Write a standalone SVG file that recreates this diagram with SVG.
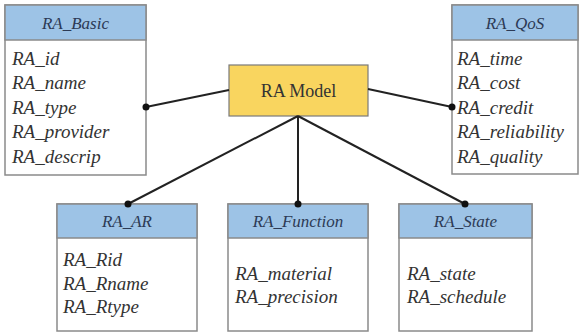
<svg xmlns="http://www.w3.org/2000/svg" width="584" height="333" viewBox="0 0 584 333">
  <style>
    .box { fill: #ffffff; stroke: #8a8a8a; stroke-width: 1.5; }
    .head { fill: #9dc3e6; stroke: #8a8a8a; stroke-width: 1.5; }
    .title { font-style: italic; font-size: 17px; fill: #2c3a55; text-anchor: middle; }
    .item { font-style: italic; font-size: 19px; fill: #333333; }
    .center { fill: #f9d55f; stroke: #7a7a7a; stroke-width: 1.2; }
    .centerText { font-size: 18px; fill: #333333; text-anchor: middle; }
    .link { stroke: #222222; stroke-width: 2; fill: none; }
    .dot { fill: #111111; }
  </style>

  <g font-family="'Liberation Serif', 'DejaVu Serif', serif">
  <!-- central node -->
  <g id="ra-model">
    <rect class="center" x="229" y="65" width="139" height="51"/>
    <text class="centerText" x="298.5" y="97">RA Model</text>
  </g>

  <g id="ra-basic">
    <rect class="box" x="5" y="5" width="141" height="170"/>
    <rect class="head" x="5" y="5" width="141" height="35"/>
    <text class="title" x="75.5" y="29">RA_Basic</text>
    <text class="item" x="12" y="65">RA_id</text>
    <text class="item" x="12" y="89">RA_name</text>
    <text class="item" x="12" y="114">RA_type</text>
    <text class="item" x="12" y="138">RA_provider</text>
    <text class="item" x="12" y="163">RA_descrip</text>
  </g>

  <g id="ra-qos">
    <rect class="box" x="452" y="5" width="126" height="169"/>
    <rect class="head" x="452" y="5" width="126" height="35"/>
    <text class="title" x="515" y="29">RA_QoS</text>
    <text class="item" x="457" y="65">RA_time</text>
    <text class="item" x="457" y="89">RA_cost</text>
    <text class="item" x="457" y="114">RA_credit</text>
    <text class="item" x="457" y="138">RA_reliability</text>
    <text class="item" x="457" y="163">RA_quality</text>
  </g>

  <g id="ra-ar">
    <rect class="box" x="57" y="204" width="140" height="127"/>
    <rect class="head" x="57" y="204" width="140" height="34"/>
    <text class="title" x="127" y="227">RA_AR</text>
    <text class="item" x="63" y="266">RA_Rid</text>
    <text class="item" x="63" y="290">RA_Rname</text>
    <text class="item" x="63" y="313">RA_Rtype</text>
  </g>

  <g id="ra-function">
    <rect class="box" x="228" y="204" width="140" height="127"/>
    <rect class="head" x="228" y="204" width="140" height="34"/>
    <text class="title" x="298" y="227">RA_Function</text>
    <text class="item" x="235" y="280">RA_material</text>
    <text class="item" x="235" y="303">RA_precision</text>
  </g>

  <g id="ra-state">
    <rect class="box" x="399" y="204" width="133" height="127"/>
    <rect class="head" x="399" y="204" width="133" height="34"/>
    <text class="title" x="465.5" y="227">RA_State</text>
    <text class="item" x="407" y="280">RA_state</text>
    <text class="item" x="407" y="303">RA_schedule</text>
  </g>
  </g>

  <!-- connectors, drawn last so the end dots sit on the box edges -->
  <g id="connectors">
    <line class="link" x1="229" y1="90" x2="146" y2="107"/>
    <circle class="dot" cx="146" cy="107" r="3.5"/>
    <line class="link" x1="368" y1="89" x2="452" y2="107"/>
    <circle class="dot" cx="452" cy="107" r="3.5"/>
    <line class="link" x1="298" y1="116" x2="128" y2="204"/>
    <circle class="dot" cx="128" cy="204" r="3.5"/>
    <line class="link" x1="298" y1="116" x2="298" y2="204"/>
    <circle class="dot" cx="298" cy="204" r="3.5"/>
    <line class="link" x1="298" y1="116" x2="465" y2="204"/>
    <circle class="dot" cx="465" cy="204" r="3.5"/>
  </g>
</svg>
